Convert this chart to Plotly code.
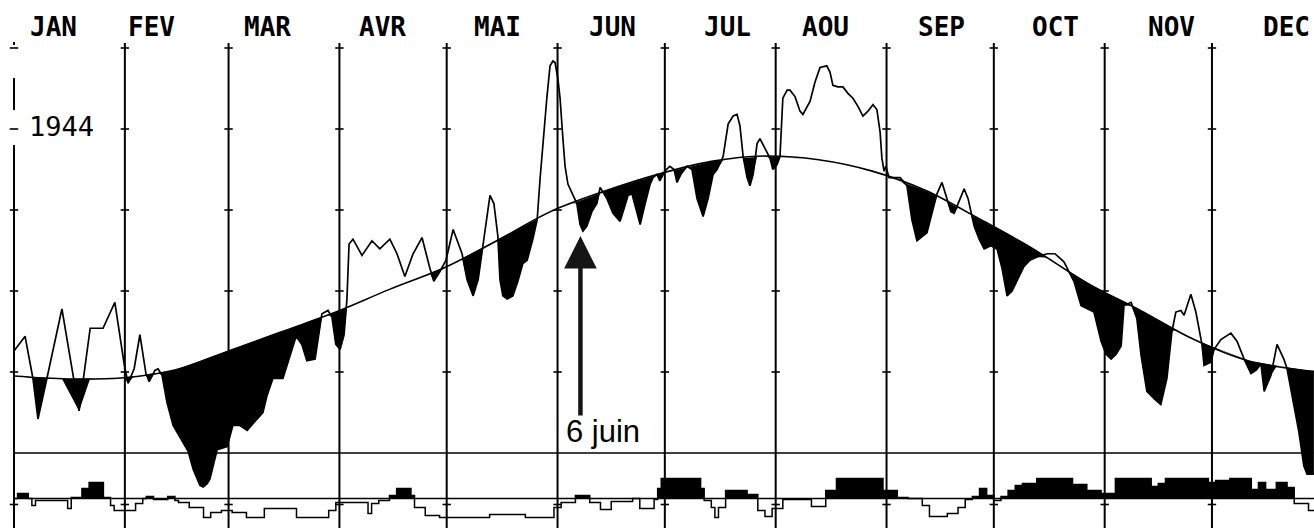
import numpy as np
import plotly.graph_objects as go

# ---------------- data ----------------
months = ["JAN", "FEV", "MAR", "AVR", "MAI", "JUN", "JUL", "AOU", "SEP", "OCT", "NOV", "DEC"]
month_start = [0, 31, 60, 91, 121, 152, 182, 213, 244, 274, 305, 335]   # day of year 1944 (leap)

# normal daily temperature (degC), day of year
norm_day = [0, 15, 30, 45, 60, 75, 90, 105, 120, 135, 150, 165, 180, 195, 210, 225,
            240, 255, 270, 285, 300, 315, 330, 345, 360, 366]
norm_val = [4.75, 4.57, 4.63, 5.12, 6.3, 7.5, 8.7, 10.1, 11.4, 13.1, 14.9, 16.15, 17.2, 18.0,
            18.33, 18.1, 17.4, 16.2, 14.45, 12.6, 10.5, 8.8, 7.0, 5.7, 5.12, 5.0]

# observed daily temperature 1944 (degC)
temp_day = [0.0, 3.1, 5.3, 6.7, 9.2, 13.4, 18.2, 21.3, 24.9, 28.2, 30.8, 31.9, 33.6, 35.2, 36.9,
            37.8, 39.4, 40.3, 41.4, 42.8, 44.5, 46.4, 48.7, 50.1, 52.0, 52.9, 54.0, 54.8, 56.8,
            59.6, 61.2, 63.2, 65.2, 68.0, 69.6, 70.7, 72.4, 75.2, 77.2, 78.9, 80.5, 81.9, 84.2,
            85.0, 86.1, 87.8, 88.9, 90.0, 91.2, 92.3, 93.1, 93.7, 94.8, 97.3, 100.1, 102.3,
            105.1, 107.1, 109.3, 111.6, 114.1, 116.3, 117.4, 119.1, 120.8, 122.8, 125.3, 126.7,
            128.4, 129.8, 131.1, 133.1, 134.2, 135.3, 135.9, 136.7, 137.9, 139.5, 140.9, 142.3,
            143.5, 145.1, 146.3, 147.1, 149.0, 149.9, 150.7, 151.3, 152.1, 152.7, 153.5, 154.1,
            154.9, 156.3, 157.4, 158.3, 159.1, 160.2, 161.6, 163.0, 163.9, 164.7, 165.8, 167.5,
            169.5, 170.6, 171.7, 172.8, 173.9, 175.1, 176.5, 177.9, 178.7, 179.8, 180.6, 182.0,
            183.4, 184.6, 185.4, 186.5, 188.2, 189.6, 191.0, 192.7, 194.1, 195.5, 196.6, 198.3,
            199.7, 201.1, 202.2, 203.0, 203.9, 205.0, 205.8, 206.7, 207.8, 208.6, 210.0, 211.4,
            212.2, 213.4, 214.2, 215.0, 216.2, 217.0, 218.4, 219.8, 220.6, 222.6, 224.0, 225.4,
            227.3, 228.2, 229.0, 230.4, 231.8, 233.2, 234.6, 236.0, 237.4, 238.8, 240.2, 241.3,
            242.2, 242.7, 243.3, 243.8, 244.7, 247.8, 249.7, 251.1, 252.5, 254.2, 255.3, 256.7,
            258.1, 259.5, 260.9, 262.0, 262.9, 264.0, 265.7, 266.8, 267.6, 268.5, 269.9, 271.3,
            273.2, 274.9, 276.3, 277.7, 279.1, 280.5, 282.4, 284.1, 286.1, 288.9, 291.1, 293.6,
            295.3, 296.4, 298.4, 302.0, 304.0, 305.4, 306.8, 308.2, 309.6, 310.4, 312.4, 314.0,
            315.2, 316.8, 319.1, 320.7, 322.4, 323.8, 324.9, 326.3, 327.2, 329.1, 330.5, 331.4,
            332.2, 332.8, 334.7, 335.6, 337.5, 340.3, 342.0, 344.0, 345.9, 347.3, 348.7, 349.6,
            351.5, 353.2, 355.1, 356.0, 357.9, 359.3, 360.7, 361.6, 363.5]
temp_val = [6.3, 7.2, 4.6, 2.1, 4.6, 8.9, 2.6, 7.7, 7.7, 9.3, 5.5, 4.3, 5.2, 7.3, 4.9,
            4.4, 5.1, 5.2, 4.8, 3.1, 1.7, 1.0, 0.1, -1.0, -2.0, -2.1, -1.9, -1.6, 0.2,
            0.4, 1.7, 1.7, 1.4, 2.1, 2.5, 3.5, 4.6, 4.6, 6.0, 7.2, 6.7, 5.7, 5.8,
            7.0, 8.6, 8.8, 8.4, 6.7, 6.4, 7.3, 9.5, 12.9, 13.2, 12.2, 13.1, 12.6,
            13.2, 12.3, 10.9, 12.3, 13.3, 11.4, 10.6, 11.2, 11.9, 13.8, 12.3, 10.7,
            9.7, 10.7, 12.7, 15.9, 15.4, 13.4, 10.7, 9.7, 9.5, 9.7, 10.6, 11.7,
            11.9, 13.2, 14.4, 16.9, 21.9, 23.9, 24.2, 24.1, 23.1, 21.9, 19.4, 17.7,
            16.6, 15.9, 15.4, 14.1, 13.7, 14.0, 14.9, 15.4, 16.4, 16.1, 15.7, 14.8,
            14.3, 15.1, 15.9, 16.0, 15.1, 14.1, 15.4, 16.6, 17.0, 17.2, 16.8, 17.4,
            17.7, 17.5, 16.7, 17.2, 17.7, 17.5, 15.7, 14.6, 15.7, 17.2, 17.5, 18.3,
            20.3, 20.8, 20.9, 20.2, 18.3, 17.0, 16.5, 17.2, 19.1, 19.4, 18.8, 18.2,
            17.5, 17.8, 18.3, 21.9, 22.4, 22.4, 22.0, 21.1, 20.9, 21.7, 22.9, 23.8,
            23.9, 23.5, 22.7, 22.6, 22.6, 22.2, 21.9, 21.4, 20.8, 21.1, 21.5, 21.2,
            19.8, 18.2, 17.4, 17.7, 17.0, 17.0, 16.5, 14.4, 13.1, 13.4, 13.6, 14.8,
            16.0, 16.7, 15.7, 14.9, 14.8, 15.4, 16.3, 15.7, 14.9, 14.0, 13.2, 12.6,
            12.8, 12.6, 11.4, 9.7, 10.0, 10.6, 11.5, 11.9, 12.1, 12.3, 12.3, 11.8,
            11.1, 10.6, 9.1, 8.7, 6.9, 6.1, 5.8, 6.1, 6.6, 9.1, 9.3, 8.3,
            6.0, 3.8, 3.3, 3.0, 4.6, 7.5, 8.7, 8.8, 8.5, 9.8, 8.7, 7.5,
            6.7, 5.4, 5.6, 6.4, 7.0, 7.4, 6.9, 5.8, 4.9, 5.1, 5.5, 3.8,
            4.8, 6.7, 5.8, 5.2, 2.9, 1.3, -0.8, -1.3, -1.3]

# lower panel: stepped deviation series (start day of each step, value)
bot_day = [0, 1, 4, 5, 6, 15, 16, 19, 21, 25, 27, 28, 34, 36, 37, 39, 43, 45, 46, 49, 53, 55,
           58, 61, 65, 70, 79, 88, 90, 99, 100, 102, 105, 107, 111, 112, 115, 119, 133, 143,
           151, 153, 157, 161, 164, 167, 173, 175, 179, 180, 181, 192, 193, 195, 196, 197,
           199, 205, 208, 210, 212, 215, 223, 227, 230, 243, 247, 250, 254, 256, 261, 264,
           266, 268, 270, 272, 274, 276, 278, 280, 282, 286, 296, 300, 304, 308, 318, 320,
           322, 334, 336, 340, 346, 348, 350, 353, 356, 358, 362, 366]
bot_val = [0, 2.5, 0, -3.5, -1, -5, 0.5, 5, 8, 0.5, -3.5, -6, -2.5, 0, 1, -0.5, 1, -1, -2,
           -4.5, -9.5, -7, -6, -7, -9.5, -5, -9.5, -6, -2, -7.5, -2.5, -1, 1.5, 5, 1.5, -4.5,
           -8.5, -9.5, -8, -9.5, -4.5, -2, 1.5, -2, -5.5, -1.5, 0, -5, -0.5, 5, 10, 5, -1,
           -4.5, -9.5, -4.5, 4, 2, -6, -9, -5, -0.5, -4, 4, 10, 4, 0.5, 0, -3.5, -9, -7.5,
           -4.5, -0.5, 1, 5, 1.5, -1, 1, 4, 6.5, 7.5, 10, 7, 4, 2.5, 10, 6, 7.5, 10, 8, 9,
           10, 4.5, 8, 4.5, 8, 5.5, -2.5, -6, -6]

year_label = "1944"
event_label = "6 juin"
event_day = 158.4
temp_ticks = [5, 10, 15, 20, 25]
bot_ticks = [-3]

# ---------------- geometry ----------------
W, H = 1314, 528
X0, PXD = 14, 3.576          # pixel of day 0, pixels per day
Z0, PXC = 453, 16.2          # pixel of 0 degC, pixels per degC
B0, PXB = 498.5, 2.0         # pixel of lower-panel baseline, pixels per unit

xr = [-X0 / PXD, (W - X0) / PXD]
yr = [(Z0 - H) / PXC, Z0 / PXC]
y2r = [(B0 - H) / PXB, B0 / PXB]

def py(p):  # pixel row -> paper y
    return 1 - p / H

temp_day_a = np.array(temp_day)
temp_val_a = np.array(temp_val)
n_at = np.interp(temp_day_a, norm_day, norm_val)
lower = np.minimum(temp_val_a, n_at)
bot_pos = np.maximum(np.array(bot_val), 0)

fig = go.Figure()
# black fill where temperature below normal
fig.add_trace(go.Scatter(x=temp_day, y=n_at, mode="lines", line=dict(width=0, color="black"),
                         hoverinfo="skip", showlegend=False))
fig.add_trace(go.Scatter(x=temp_day, y=lower, mode="lines", line=dict(width=0, color="black"),
                         fill="tonexty", fillcolor="black", hoverinfo="skip", showlegend=False))
# normal curve
fig.add_trace(go.Scatter(x=norm_day, y=norm_val, mode="lines",
                         line=dict(width=1.6, color="black", shape="spline"), showlegend=False))
# observed temperature
fig.add_trace(go.Scatter(x=temp_day, y=temp_val, mode="lines",
                         line=dict(width=1.7, color="black"), showlegend=False))
# lower panel
fig.add_trace(go.Scatter(x=bot_day, y=bot_pos, mode="lines", yaxis="y2",
                         line=dict(width=0, color="black", shape="hv"),
                         fill="tozeroy", fillcolor="black", hoverinfo="skip", showlegend=False))
fig.add_trace(go.Scatter(x=bot_day, y=bot_val, mode="lines", yaxis="y2",
                         line=dict(width=1.5, color="black", shape="hv"), showlegend=False))
# tick crosses on month lines
tx, ty = [], []
for d in month_start:
    for t in temp_ticks:
        tx.append(d); ty.append(t)
fig.add_trace(go.Scatter(x=tx, y=ty, mode="markers", showlegend=False, hoverinfo="skip",
                         marker=dict(symbol="line-ew", size=6, line=dict(width=1.6, color="black"))))
bx, by = [], []
for d in month_start:
    for t in bot_ticks:
        bx.append(d); by.append(t)
fig.add_trace(go.Scatter(x=bx, y=by, mode="markers", yaxis="y2", showlegend=False, hoverinfo="skip",
                         marker=dict(symbol="line-ew", size=6, line=dict(width=1.6, color="black"))))

shapes = []
for d in month_start[1:]:
    shapes.append(dict(type="line", xref="x", yref="paper", x0=d, x1=d, y0=0, y1=py(43),
                       line=dict(color="black", width=2), layer="below"))
# left border line (interrupted)
for a, b in [(78, 110), (145, H), (42, 45)]:
    shapes.append(dict(type="line", xref="x", yref="paper", x0=0, x1=0, y0=py(b), y1=py(a),
                       line=dict(color="black", width=2), layer="below"))
# horizontal reference lines
shapes.append(dict(type="line", xref="x", yref="y", x0=0, x1=xr[1], y0=0, y1=0,
                   line=dict(color="black", width=1.7), layer="below"))
shapes.append(dict(type="line", xref="x", yref="y2", x0=0, x1=xr[1], y0=0, y1=0,
                   line=dict(color="black", width=1.7), layer="below"))

label_px = [53, 151, 267, 382, 497, 612, 727, 825, 941, 1055, 1171, 1286]
annotations = []
for m, lx in zip(months, label_px):
    annotations.append(dict(text=m, xref="paper", yref="paper", x=lx / W, y=py(27),
                            xanchor="center", yanchor="middle", showarrow=False,
                            font=dict(family="DejaVu Sans Mono", size=26, color="black", weight="bold")))
annotations.append(dict(text=year_label, xref="paper", yref="paper", x=61 / W, y=py(126),
                        xanchor="center", yanchor="middle", showarrow=False,
                        font=dict(family="DejaVu Sans Mono", size=27, color="black")))
# arrow to June 6
annotations.append(dict(text="", xref="x", yref="y", x=event_day, y=(Z0 - 236) / PXC,
                        ax=0, ay=181, showarrow=True, arrowhead=2, arrowsize=1.45,
                        arrowwidth=4.5, arrowcolor="#151515"))
annotations.append(dict(text=event_label, xref="paper", yref="paper", x=603 / W, y=py(431),
                        xanchor="center", yanchor="middle", showarrow=False,
                        font=dict(family="Liberation Sans", size=31, color="black")))

fig.update_layout(
    width=W, height=H, autosize=False,
    margin=dict(l=0, r=0, t=0, b=0, pad=0),
    paper_bgcolor="white", plot_bgcolor="white",
    xaxis=dict(range=xr, visible=False, fixedrange=True),
    yaxis=dict(range=yr, visible=False, fixedrange=True),
    yaxis2=dict(range=y2r, visible=False, overlaying="y", fixedrange=True),
    shapes=shapes, annotations=annotations, showlegend=False,
)
fig.write_html("out.html", config={"displayModeBar": False},
               post_script="document.body.style.margin='0';document.body.style.overflow='hidden';")
